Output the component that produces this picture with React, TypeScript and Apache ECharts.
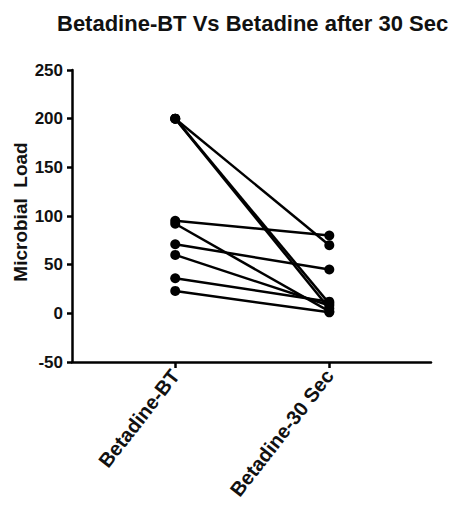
import React, { useEffect, useRef } from "react";
import * as echarts from "echarts";

const categories = ["Betadine-BT", "Betadine-30 Sec"];
const beforeValues = [200, 200, 200, 95, 92, 71, 60, 36, 23];
const afterValues = [70, 5, 10, 80, 2, 45, 8, 12, 1];
const yTicks = { min: -50, max: 250, interval: 50 };
const yAxisTitle = "Microbial  Load";

export default function App() {
  const ref = useRef<HTMLDivElement>(null);
  useEffect(() => {
    const chart = echarts.init(ref.current!, null, { renderer: "svg" });
    const font = "'Liberation Sans', Arial, sans-serif";
    const series = beforeValues.map((b, i) => ({
      type: "line",
      data: [
        [1, b],
        [2, afterValues[i]],
      ],
      symbol: "circle",
      symbolSize: 10,
      lineStyle: { color: "#000", width: 2.5 },
      itemStyle: { color: "#000" },
      silent: true,
    }));
    chart.setOption({
      animation: false,
      backgroundColor: "#fff",
      title: {
        text: "Betadine-BT Vs Betadine after 30 Sec",
        left: 44,
        top: -1,
        textStyle: { fontFamily: font, fontWeight: "bold", fontSize: 22, color: "#111" },
      },
      graphic: [
        {
          type: "text",
          x: 12,
          y: 204,
          rotation: Math.PI / 2,
          style: {
            text: yAxisTitle,
            fontFamily: font,
            fontWeight: "bold",
            fontSize: 19,
            fill: "#111",
            align: "center",
            verticalAlign: "middle",
          },
        },
      ],
      grid: { left: 64, right: 27, top: 62, bottom: 146, containLabel: false, outerBoundsMode: "none" },
      xAxis: {
        type: "value",
        min: 0.33,
        max: 2.66,
        axisLine: { onZero: false, lineStyle: { color: "#000", width: 2.5 } },
        axisTick: { show: true, customValues: [1, 2], length: 6, lineStyle: { color: "#000", width: 2.5 } },
        axisLabel: {
          customValues: [1, 2],
          formatter: (v: number) => categories[Math.round(v) - 1] ?? "",
          rotate: 52,
          margin: 10,
          fontFamily: font,
          fontWeight: "bold",
          fontSize: 20,
          color: "#111",
        },
        splitLine: { show: false },
      },
      yAxis: {
        type: "value",
        min: yTicks.min,
        max: yTicks.max,
        interval: yTicks.interval,
        axisLine: { show: true, onZero: false, lineStyle: { color: "#000", width: 2.5 } },
        axisTick: { show: true, length: 5, lineStyle: { color: "#000", width: 2.5 } },
        axisLabel: { margin: 9, fontFamily: font, fontWeight: "bold", fontSize: 17, color: "#111" },
        splitLine: { show: false },
      },
      series,
    });
    return () => chart.dispose();
  }, []);
  return <div ref={ref} style={{ width: 450, height: 500 }} />;
}
